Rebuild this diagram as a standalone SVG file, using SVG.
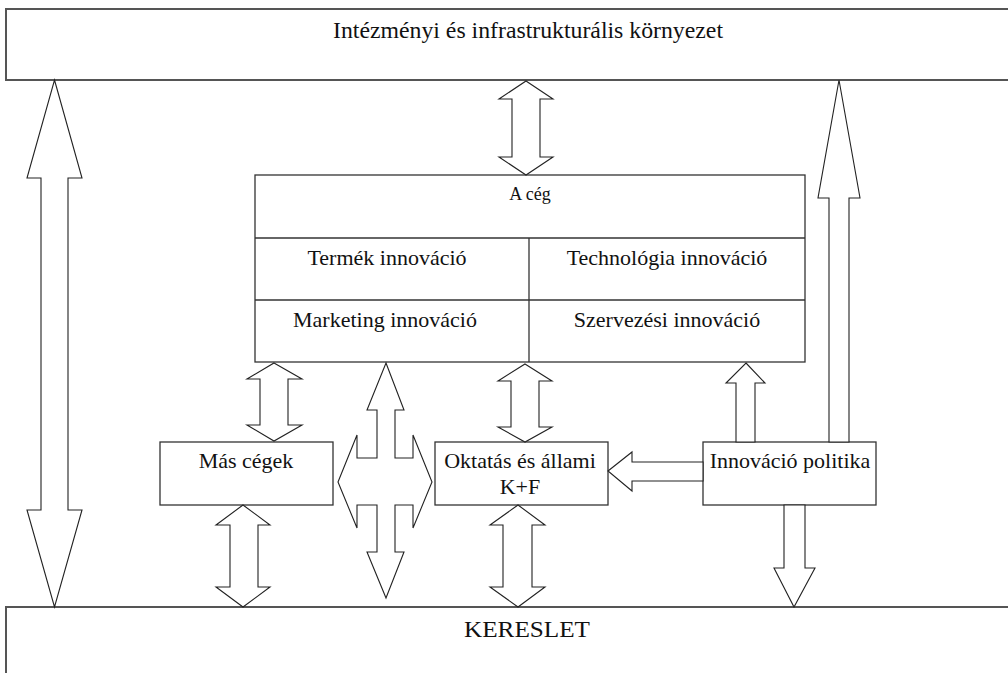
<svg xmlns="http://www.w3.org/2000/svg" width="1008" height="673" viewBox="0 0 1008 673">
  <style>
    .frame { fill: #ffffff; stroke: #555555; stroke-width: 2; }
    .box { fill: #ffffff; stroke: #333333; stroke-width: 1.3; }
    .div { fill: none; stroke: #333333; stroke-width: 1.3; }
    .arrow { fill: #ffffff; stroke: #222222; stroke-width: 1.1; stroke-linejoin: miter; }
    .lbl { font-family: "Liberation Serif", "Times New Roman", serif; font-size: 22px; fill: #111111; text-anchor: middle; }
    .big { font-size: 24px; }
    .small { font-size: 18px; }
  </style>
  <rect width="1008" height="673" fill="#ffffff"/>

  <!-- outer environment band -->
  <g id="env">
    <rect class="frame" x="6" y="9" width="1010" height="71"/>
    <text class="lbl big" x="528" y="38" textLength="390" lengthAdjust="spacingAndGlyphs">Intézményi és infrastrukturális környezet</text>
  </g>

  <!-- demand band -->
  <g id="demand">
    <rect class="frame" x="6" y="607" width="1010" height="80"/>
    <text class="lbl big" x="527" y="637" textLength="126" lengthAdjust="spacingAndGlyphs">KERESLET</text>
  </g>

  <!-- the firm and its four innovation types -->
  <g id="firm">
    <rect class="box" x="255" y="175" width="550" height="187"/>
    <line class="div" x1="255" y1="238" x2="805" y2="238"/>
    <line class="div" x1="255" y1="300" x2="805" y2="300"/>
    <line class="div" x1="529" y1="238" x2="529" y2="362"/>
    <text class="lbl small" x="530" y="200">A cég</text>
    <text class="lbl" x="387" y="265">Termék innováció</text>
    <text class="lbl" x="667" y="265">Technológia innováció</text>
    <text class="lbl" x="385" y="327">Marketing innováció</text>
    <text class="lbl" x="667" y="327">Szervezési innováció</text>
  </g>

  <g id="other-firms">
    <rect class="box" x="160" y="442" width="173" height="63"/>
    <text class="lbl" x="246" y="468">Más cégek</text>
  </g>

  <g id="education">
    <rect class="box" x="435" y="442" width="173" height="63"/>
    <text class="lbl" x="520" y="468">Oktatás és állami</text>
    <text class="lbl" x="520" y="494">K+F</text>
  </g>

  <g id="policy">
    <rect class="box" x="703" y="442" width="173" height="63"/>
    <text class="lbl" x="790" y="468">Innováció politika</text>
  </g>

  <!-- block arrows -->
  <g id="connectors">
    <!-- environment <-> demand -->
    <path class="arrow" d="M54.5,80 L82,178 L68,178 L68,510 L82,510 L54.5,607 L27,510 L41,510 L41,178 L27,178 Z"/>
    <!-- environment <-> firm -->
    <path class="arrow" d="M526,81 L553,99 L540,99 L540,157 L553,157 L526,175 L499,157 L512,157 L512,99 L499,99 Z"/>
    <!-- firm <-> other firms -->
    <path class="arrow" d="M274,363 L302,379 L288,379 L288,425 L302,425 L274,441 L247,425 L260,425 L260,379 L247,379 Z"/>
    <!-- other firms <-> demand -->
    <path class="arrow" d="M243,505 L270,525 L258,525 L258,587 L270,587 L243,607 L216,587 L230,587 L230,525 L216,525 Z"/>
    <!-- four-way arrow between firm, other firms, education and demand -->
    <path class="arrow" d="M386,363 L404,410 L395,410 L395,458 L413,458 L413,435 L432,482 L413,528 L413,505 L395,505 L395,552 L404,552 L386,598 L367,552 L377,552 L377,505 L357,505 L357,528 L338,482 L357,435 L357,458 L377,458 L377,410 L367,410 Z"/>
    <!-- firm <-> education -->
    <path class="arrow" d="M525,364 L552,381 L539,381 L539,427 L552,427 L525,442 L498,427 L511,427 L511,381 L498,381 Z"/>
    <!-- education <-> demand -->
    <path class="arrow" d="M518,505 L545,525 L532,525 L532,587 L545,587 L518,607 L490,587 L503,587 L503,525 L490,525 Z"/>
    <!-- policy -> education -->
    <path class="arrow" d="M608,471 L632,452 L632,462 L703,462 L703,481 L632,481 L632,491 Z"/>
    <!-- policy -> firm -->
    <path class="arrow" d="M746,363 L765,383 L755,383 L755,442 L736,442 L736,383 L726,383 Z"/>
    <!-- policy -> environment -->
    <path class="arrow" d="M839,80 L860,198 L849,198 L849,442 L829,442 L829,198 L818,198 Z"/>
    <!-- policy -> demand -->
    <path class="arrow" d="M784,505 L805,505 L805,568 L815,568 L794,607 L774,568 L784,568 Z"/>
  </g>
</svg>
